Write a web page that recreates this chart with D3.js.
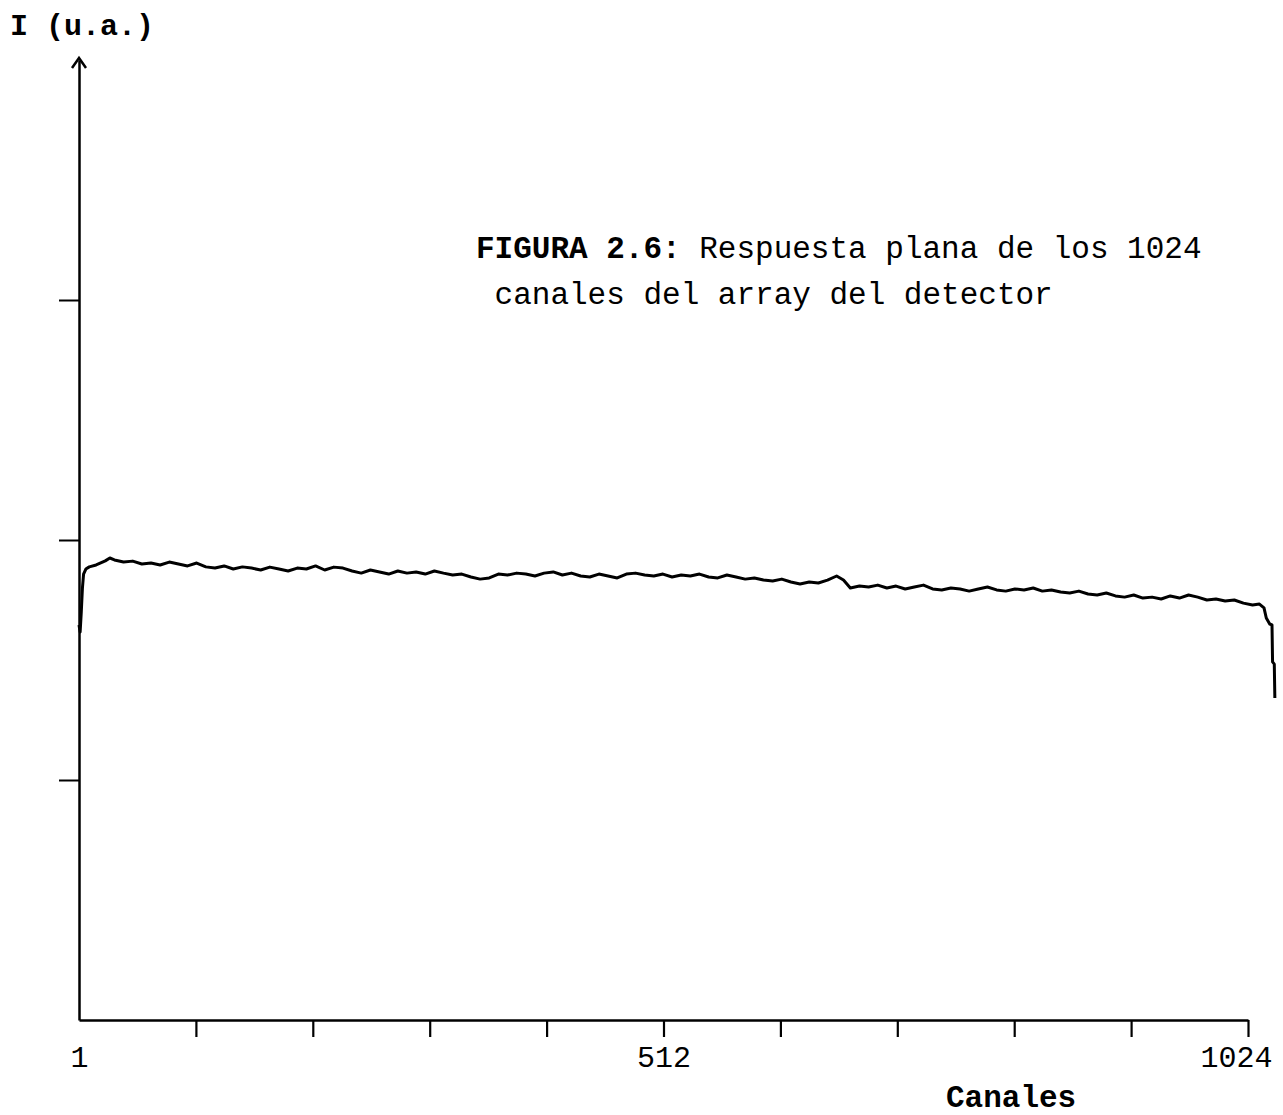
<!DOCTYPE html>
<html>
<head>
<meta charset="utf-8">
<script src="https://cdn.jsdelivr.net/npm/d3@7"></script>
<style>
  html, body { margin: 0; padding: 0; background: #fff; }
  svg { display: block; }
  text { font-family: "Liberation Mono", "DejaVu Sans Mono", monospace; fill: #000; }
</style>
</head>
<body>
<svg id="chart" width="1283" height="1115"></svg>
<script>
// ---- data ----
const channels = [1,2,3,4,5,7,10,16,24,28,32,40,48,56,64,72,80,88,96,104,112,120,128,136,144,152,160,168,176,184,192,200,208,216,224,232,240,248,256,264,272,280,288,296,304,312,320,328,336,344,352,360,368,376,384,392,400,408,416,424,432,440,448,456,464,472,480,488,496,504,512,520,528,536,544,552,560,568,576,584,592,600,608,616,624,632,640,648,656,664,670,676,684,692,700,708,716,724,732,740,748,756,764,772,780,788,796,804,812,820,828,836,844,852,860,868,876,884,892,900,908,916,924,932,940,948,956,964,972,980,988,996,1004,1012,1020,1028,1034,1038,1040,1043,1045,1045.5,1047,1047.5];
const intensity = [1.646,1.617,1.700,1.800,1.858,1.879,1.888,1.896,1.913,1.925,1.917,1.908,1.912,1.900,1.904,1.896,1.908,1.900,1.892,1.904,1.888,1.883,1.892,1.879,1.888,1.883,1.875,1.887,1.879,1.871,1.883,1.879,1.892,1.875,1.887,1.883,1.871,1.862,1.875,1.867,1.858,1.871,1.862,1.867,1.858,1.871,1.862,1.854,1.858,1.846,1.837,1.842,1.858,1.854,1.862,1.858,1.850,1.862,1.867,1.854,1.862,1.850,1.846,1.858,1.850,1.842,1.858,1.862,1.854,1.850,1.858,1.846,1.854,1.850,1.858,1.846,1.842,1.854,1.846,1.837,1.842,1.833,1.829,1.837,1.825,1.817,1.825,1.821,1.833,1.850,1.833,1.800,1.808,1.804,1.812,1.800,1.808,1.796,1.804,1.812,1.796,1.792,1.800,1.796,1.787,1.796,1.804,1.792,1.787,1.796,1.792,1.800,1.787,1.792,1.783,1.779,1.787,1.775,1.771,1.779,1.767,1.762,1.771,1.758,1.762,1.754,1.767,1.758,1.771,1.762,1.750,1.754,1.746,1.750,1.737,1.729,1.733,1.717,1.675,1.650,1.646,1.492,1.483,1.342];
const xTickValues = [1,103.3,205.6,307.9,410.2,512.5,614.8,717.1,819.4,921.7,1024];
const xTickLabels = ["1","","","","","512","","","","","1024"];
const yTickValues = [1,2,3];
const titleBold = "FIGURA 2.6:";
const titleRest = " Respuesta plana de los 1024";
const titleLine2 = " canales del array del detector";
const yLabel = "I (u.a.)";
const xLabel = "Canales";

// ---- chart ----
const svg = d3.select("#chart");
const x = d3.scaleLinear().domain([1, 1024]).range([79, 1248]);
const y = d3.scaleLinear().domain([0, 4]).range([1020, 60]);

// x axis
const xAxis = d3.axisBottom(x)
  .tickValues(xTickValues)
  .tickFormat((d, i) => xTickLabels[i])
  .tickSize(17)
  .tickSizeOuter(0)
  .tickPadding(4);
const gx = svg.append("g").attr("transform", "translate(0,1020)").call(xAxis);
gx.select(".domain").attr("stroke", "#000").attr("stroke-width", 2.5);
gx.selectAll(".tick line").attr("stroke", "#000").attr("stroke-width", 2.2);
gx.selectAll(".tick").filter((d, i) => i === 0).select("line").remove();
gx.selectAll(".tick text")
  .attr("font-family", "Liberation Mono, monospace")
  .attr("font-size", 30)
  .attr("fill", "#000")
  .attr("dy", "0.85em");
gx.selectAll(".tick text").filter((d, i) => i === 10).attr("dx", -12);

// y axis
const yAxis = d3.axisLeft(y)
  .tickValues(yTickValues)
  .tickFormat("")
  .tickSize(20)
  .tickSizeOuter(0);
const gy = svg.append("g").attr("transform", "translate(79,0)").call(yAxis);
gy.select(".domain").attr("stroke", "#000").attr("stroke-width", 2.5);
gy.selectAll(".tick line").attr("stroke", "#000").attr("stroke-width", 2);

// arrow head on y axis
const yTop = y(4) - 2;
svg.append("path")
  .attr("d", `M${x(1) - 7},${yTop + 10} L${x(1)},${yTop} L${x(1) + 7},${yTop + 10}`)
  .attr("fill", "none").attr("stroke", "#000").attr("stroke-width", 2.5);

// data line
const pts = channels.map((c, i) => [c, intensity[i]]);
svg.append("path")
  .datum(pts)
  .attr("fill", "none")
  .attr("stroke", "#000")
  .attr("stroke-width", 3)
  .attr("stroke-linejoin", "round")
  .attr("d", d3.line().x(d => x(d[0])).y(d => y(d[1])));

// labels
svg.append("text").attr("x", 10).attr("y", 35)
  .attr("font-size", 30).attr("font-weight", "bold").text(yLabel);
svg.append("text").attr("x", 946).attr("y", 1107)
  .attr("font-size", 31).attr("font-weight", "bold").text(xLabel);

const t1 = svg.append("text").attr("x", 476).attr("y", 258).attr("font-size", 31);
t1.append("tspan").attr("font-weight", "bold").text(titleBold);
t1.append("tspan").text(titleRest);
svg.append("text").attr("x", 476).attr("y", 304).attr("font-size", 31)
  .style("white-space", "pre").text(titleLine2);
svg.selectAll("tspan").style("white-space", "pre");
</script>
</body>
</html>
